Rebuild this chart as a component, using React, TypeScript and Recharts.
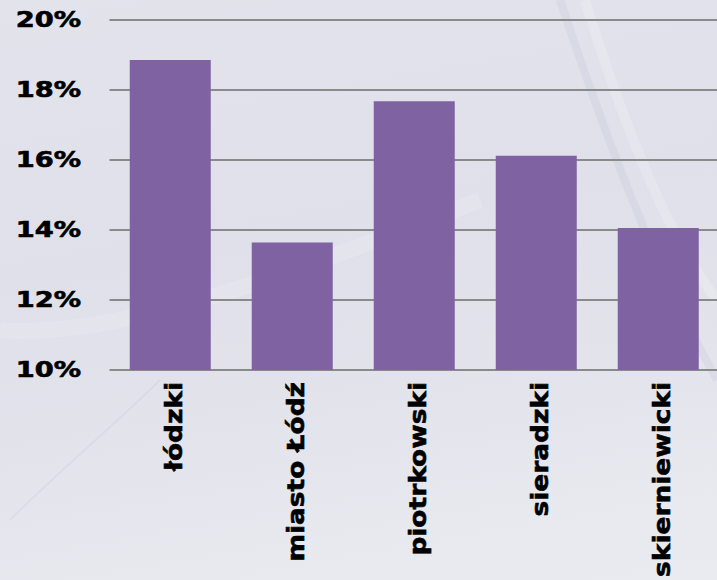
import { BarChart, Bar, XAxis, YAxis, CartesianGrid } from 'recharts';

const districts = ['łódzki', 'miasto Łódź', 'piotrkowski', 'sieradzki', 'skierniewicki'];
const shares = [18.86, 13.64, 17.68, 16.12, 14.06];
const yTicks = [10, 12, 14, 16, 18, 20];

const data = districts.map((name, i) => ({ name, value: shares[i] }));

const FONT = '"DejaVu Sans", Verdana, sans-serif';

const PercentTick = (props: any) => {
    const { x, y, payload } = props;
    return (
        <g transform={`translate(${x},${y})`}>
            <text
                transform="scale(1.3,1)"
                textAnchor="end"
                dominantBaseline="central"
                fontFamily={FONT}
                fontWeight="bold"
                fontSize={21}
                fill="#000"
                stroke="#000"
                strokeWidth={0.6}
            >
                {payload.value}%
            </text>
        </g>
    );
};

const DistrictTick = (props: any) => {
    const { x, y, payload } = props;
    return (
        <g transform={`translate(${x},${y}) rotate(-90)`}>
            <text
                transform="scale(1.15,1)"
                y={11}
                textAnchor="end"
                fontFamily={FONT}
                fontWeight="bold"
                fontSize={23}
                fill="#000"
                stroke="#000"
                strokeWidth={0.6}
            >
                {payload.value}
            </text>
        </g>
    );
};

// faint backdrop streaks, purely decorative
const Backdrop = () => (
    <svg width={717} height={580} style={{ position: 'absolute', left: 0, top: 0 }}>
        <path d="M560 0 C 600 120, 650 260, 717 380" stroke="#c4c6dc" strokeWidth={8} fill="none" opacity={0.3} />
        <path d="M585 0 C 625 130, 670 240, 717 300" stroke="#ffffff" strokeWidth={10} fill="none" opacity={0.2} />
        <path d="M0 330 C 120 340, 300 270, 480 200" stroke="#ffffff" strokeWidth={16} fill="none" opacity={0.15} />
        <path d="M10 520 C 60 470, 120 420, 160 380" stroke="#cfd0dc" strokeWidth={2} fill="none" opacity={0.4} />
    </svg>
);

export default function App() {
    return (
        <div
            style={{
                position: 'absolute',
                left: 0,
                top: 0,
                width: 717,
                height: 580,
                overflow: 'hidden',
                background: 'linear-gradient(170deg, #e2e3eb 0%, #dfe0e9 40%, #e1e2ea 60%, #e8e9ef 85%, #eaebf0 100%)',
            }}
        >
            <Backdrop />
            <BarChart
                width={730}
                height={580}
                data={data}
                margin={{ top: 20, right: 10.5, left: 0, bottom: 10 }}
                barCategoryGap="16.6%"
                style={{ position: 'absolute', left: 0, top: 0 }}
            >
                <CartesianGrid vertical={false} stroke="#8a8a8a" strokeWidth={2} />
                <XAxis
                    dataKey="name"
                    axisLine={false}
                    tickLine={false}
                    tickSize={0}
                    tickMargin={12}
                    height={200}
                    interval={0}
                    tick={<DistrictTick />}
                />
                <YAxis
                    domain={[10, 20]}
                    ticks={yTicks}
                    allowDataOverflow
                    axisLine={false}
                    tickLine={false}
                    tickSize={0}
                    tickMargin={28.5}
                    width={109.5}
                    tick={<PercentTick />}
                />
                <Bar dataKey="value" fill="#7f62a2" isAnimationActive={false} />
            </BarChart>
        </div>
    );
}
